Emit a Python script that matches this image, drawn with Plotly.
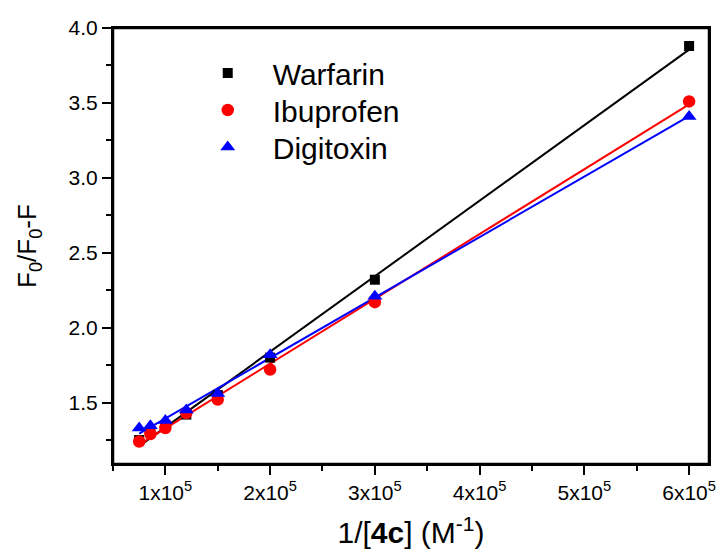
import numpy as np
import plotly.graph_objects as go

x_vals = [0.75e5, 0.857e5, 1.0e5, 1.2e5, 1.5e5, 2.0e5, 3.0e5, 6.0e5]
warfarin = [1.25, 1.30, 1.35, 1.42, 1.55, 1.80, 2.32, 3.88]
ibuprofen = [1.24, 1.29, 1.33, 1.43, 1.52, 1.72, 2.17, 3.51]
digitoxin = [1.33, 1.345, 1.38, 1.45, 1.56, 1.82, 2.21, 3.41]

series_names = ["Warfarin", "Ibuprofen", "Digitoxin"]
series_vals = [warfarin, ibuprofen, digitoxin]
colors = ["black", "red", "blue"]
symbols = ["square", "circle", "triangle-up"]
sizes = [10, 12.5, 13]
legend_ids = ["legend", "legend2", "legend3"]
legend_y = [0.897, 0.812, 0.727]

x_range = [0.5e5, 6.19e5]
y_range = [1.09, 4.0]
x_tickvals = [1e5, 2e5, 3e5, 4e5, 5e5, 6e5]
x_ticktext = ["1x10<sup>5</sup>", "2x10<sup>5</sup>", "3x10<sup>5</sup>",
              "4x10<sup>5</sup>", "5x10<sup>5</sup>", "6x10<sup>5</sup>"]
y_tickvals = [1.5, 2.0, 2.5, 3.0, 3.5, 4.0]
y_ticktext = ["1.5", "2.0", "2.5", "3.0", "3.5", "4.0"]

FONT = "Liberation Sans, Arial"

fig = go.Figure()
xa = np.array(x_vals)
for name, vals, c in zip(series_names, series_vals, colors):
    k, b = np.polyfit(xa, np.array(vals), 1)
    xs = [xa.min(), xa.max()]
    fig.add_trace(go.Scatter(x=xs, y=[k * v + b for v in xs], mode="lines",
                             line=dict(color=c, width=2), showlegend=False,
                             hoverinfo="skip"))
for name, vals, c, s, sz, lg in zip(series_names, series_vals, colors, symbols, sizes, legend_ids):
    fig.add_trace(go.Scatter(x=x_vals, y=vals, mode="markers", name=name, legend=lg,
                             marker=dict(color=c, symbol=s, size=sz, line=dict(width=0))))

axis_common = dict(showline=True, linecolor="rgb(0,0,0)", linewidth=2, mirror=True,
                   ticks="outside", tickwidth=2, ticklen=9, tickcolor="black",
                   showgrid=False, zeroline=False, automargin=False,
                   tickfont=dict(family=FONT, size=21, color="black"))

fig.update_xaxes(range=x_range, tickvals=x_tickvals, ticktext=x_ticktext,
                 minor=dict(ticks="outside", ticklen=5, tickwidth=2, tickcolor="black",
                            dtick=0.5e5, tick0=0),
                 title=dict(text="1/[<b>4c</b>] (M<sup>-1</sup>)", standoff=19,
                            font=dict(family=FONT, size=30, color="black")),
                 **axis_common)
fig.update_yaxes(range=y_range, tickvals=y_tickvals, ticktext=y_ticktext,
                 minor=dict(ticks="outside", ticklen=5, tickwidth=2, tickcolor="black",
                            dtick=0.25, tick0=0),
                 title=dict(text="F<sub>0</sub>/F<sub>0</sub>-F", standoff=24,
                            font=dict(family=FONT, size=26, color="black")),
                 **axis_common)

fig.add_shape(type="rect", xref="paper", yref="paper", x0=0, y0=0, x1=1, y1=1,
              line=dict(color="rgb(0,0,0)", width=2.5))

leg_common = dict(x=0.117, xanchor="left", yanchor="middle",
                  font=dict(family=FONT, size=30, color="black"),
                  bgcolor="rgba(0,0,0,0)", itemwidth=80, itemsizing="trace")

fig.update_layout(
    width=721, height=552,
    margin=dict(l=113, r=12, t=28, b=88),
    plot_bgcolor="white", paper_bgcolor="white",
    legend=dict(y=legend_y[0], **leg_common),
    legend2=dict(y=legend_y[1], **leg_common),
    legend3=dict(y=legend_y[2], **leg_common),
    xaxis2=dict(overlaying="x", side="top", anchor="y", range=x_range,
                showline=True, linecolor="rgb(0,0,0)", linewidth=2,
                ticks="outside", ticklen=3, tickwidth=1, tickcolor="gray",
                tickvals=x_tickvals, showticklabels=False, showgrid=False,
                zeroline=False, automargin=False),
    yaxis2=dict(overlaying="y", side="right", anchor="x", range=y_range,
                showline=True, linecolor="rgb(0,0,0)", linewidth=2,
                ticks="", showticklabels=False, showgrid=False,
                zeroline=False, automargin=False),
)

fig.write_html("out.html", config={"displayModeBar": False},
               post_script="document.body.style.margin='0';document.body.style.overflow='hidden';")
